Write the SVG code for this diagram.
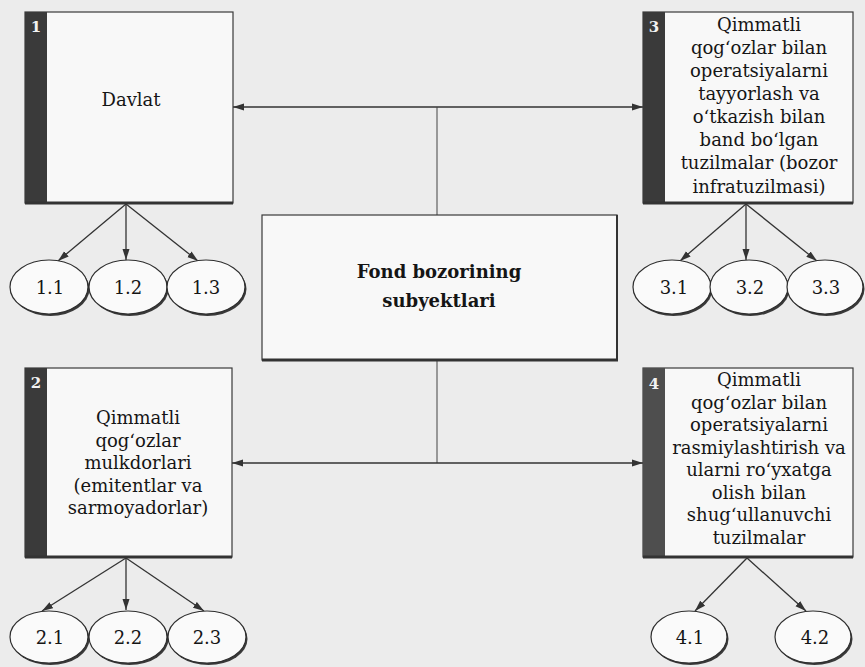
<svg xmlns="http://www.w3.org/2000/svg" width="865" height="667" viewBox="0 0 865 667">
<style>
.bg{fill:#ececec}
.box{fill:#f8f8f8;stroke:#3a3a3a;stroke-width:1.2}
.bar{fill:#3a3a3a}
.bar4{fill:#4e4e4e}
.sh{stroke:#333;stroke-width:3}
.t{font-family:"DejaVu Serif","Liberation Serif",serif;font-size:18px;fill:#151515;text-anchor:middle}
.title{font-weight:bold;font-size:18px}
.num{font-family:"DejaVu Serif","Liberation Serif",serif;font-size:15px;fill:#f2f2f2;font-weight:bold;text-anchor:middle}
.conn{stroke:#333;stroke-width:1.3;fill:none}
.vline{stroke:#444;stroke-width:1;fill:none}
.ell{fill:#fafafa;stroke:#2e2e2e;stroke-width:1.2}
.ellsh{fill:#3a3a3a}
.el{font-family:"DejaVu Serif","Liberation Serif",serif;font-size:18px;fill:#151515;text-anchor:middle}
</style>
<defs>
<marker id="ah" viewBox="0 0 11 8" refX="11" refY="4" markerWidth="11" markerHeight="8" markerUnits="userSpaceOnUse" orient="auto-start-reverse">
<path d="M0,0.5 L11,4 L0,7.5 z" fill="#333"/>
</marker>
</defs>
<rect class="bg" x="0" y="0" width="865" height="667"/>

<g id="connectors">
<line class="conn" x1="233" y1="107" x2="643" y2="107" marker-start="url(#ah)" marker-end="url(#ah)"/>
<line class="vline" x1="437" y1="107" x2="437" y2="215"/>
<line class="vline" x1="437" y1="360" x2="437" y2="463"/>
<line class="conn" x1="232" y1="463" x2="643" y2="463" marker-start="url(#ah)" marker-end="url(#ah)"/>
<line class="conn" x1="126" y1="204" x2="58" y2="261" marker-end="url(#ah)"/>
<line class="conn" x1="126" y1="204" x2="126" y2="260" marker-end="url(#ah)"/>
<line class="conn" x1="126" y1="204" x2="198" y2="261" marker-end="url(#ah)"/>
<line class="conn" x1="746" y1="204" x2="680" y2="261" marker-end="url(#ah)"/>
<line class="conn" x1="746" y1="204" x2="746" y2="260" marker-end="url(#ah)"/>
<line class="conn" x1="746" y1="204" x2="817" y2="261" marker-end="url(#ah)"/>
<line class="conn" x1="126" y1="558" x2="42" y2="611" marker-end="url(#ah)"/>
<line class="conn" x1="126" y1="558" x2="126" y2="610" marker-end="url(#ah)"/>
<line class="conn" x1="126" y1="558" x2="204" y2="611" marker-end="url(#ah)"/>
<line class="conn" x1="747" y1="558" x2="695" y2="611" marker-end="url(#ah)"/>
<line class="conn" x1="747" y1="558" x2="806" y2="611" marker-end="url(#ah)"/>
</g>

<g id="node-1">
<rect class="box" x="25" y="12" width="208" height="191"/>
<rect class="bar" x="25" y="12" width="22" height="191"/>
<line class="sh" x1="25" y1="203" x2="233" y2="203"/>
<text class="num" x="36" y="32">1</text>
<text class="t" x="131" y="106">Davlat</text>
</g>

<g id="node-2">
<rect class="box" x="25" y="368" width="207" height="189"/>
<rect class="bar" x="25" y="368" width="22" height="189"/>
<line class="sh" x1="25" y1="557" x2="232" y2="557"/>
<text class="num" x="36" y="388">2</text>
<text class="t" x="138" y="424">Qimmatli</text>
<text class="t" x="138" y="446.5">qog‘ozlar</text>
<text class="t" x="138" y="469">mulkdorlari</text>
<text class="t" x="138" y="491.5">(emitentlar va</text>
<text class="t" x="138" y="514">sarmoyadorlar)</text>
</g>

<g id="node-3">
<rect class="box" x="643" y="12" width="210" height="191"/>
<rect class="bar" x="643" y="12" width="22" height="191"/>
<line class="sh" x1="643" y1="203" x2="853" y2="203"/>
<text class="num" x="654" y="32">3</text>
<text class="t" x="759" y="31">Qimmatli</text>
<text class="t" x="759" y="54">qog‘ozlar bilan</text>
<text class="t" x="759" y="77">operatsiyalarni</text>
<text class="t" x="759" y="100">tayyorlash va</text>
<text class="t" x="759" y="123">o‘tkazish bilan</text>
<text class="t" x="759" y="146">band bo‘lgan</text>
<text class="t" x="759" y="169">tuzilmalar (bozor</text>
<text class="t" x="759" y="193">infratuzilmasi)</text>
</g>

<g id="node-4">
<rect class="box" x="643" y="368" width="210" height="189"/>
<rect class="bar4" x="643" y="368" width="22" height="189"/>
<line class="sh" x1="643" y1="557" x2="853" y2="557"/>
<text class="num" x="654" y="389">4</text>
<text class="t" x="759" y="386">Qimmatli</text>
<text class="t" x="759" y="408.5">qog‘ozlar bilan</text>
<text class="t" x="759" y="431">operatsiyalarni</text>
<text class="t" x="759" y="453.5">rasmiylashtirish va</text>
<text class="t" x="759" y="476">ularni ro‘yxatga</text>
<text class="t" x="759" y="498.5">olish bilan</text>
<text class="t" x="759" y="521">shug‘ullanuvchi</text>
<text class="t" x="759" y="543.5">tuzilmalar</text>
</g>

<g id="node-center">
<rect class="box" x="262" y="215" width="355" height="145"/>
<line class="sh" x1="262" y1="360" x2="618" y2="360"/>
<line class="sh" x1="617" y1="215" x2="617" y2="360" style="stroke-width:2"/>
<text class="t title" x="439" y="278">Fond bozorining</text>
<text class="t title" x="439" y="307">subyektlari</text>
</g>

<g id="node-1-1"><ellipse class="ellsh" cx="50.5" cy="289" rx="39" ry="27"/><ellipse class="ell" cx="49" cy="287" rx="39" ry="27"/><text class="el" x="50" y="294">1.1</text></g>
<g id="node-1-2"><ellipse class="ellsh" cx="129.5" cy="289" rx="39" ry="27"/><ellipse class="ell" cx="128" cy="287" rx="39" ry="27"/><text class="el" x="128" y="294">1.2</text></g>
<g id="node-1-3"><ellipse class="ellsh" cx="207.5" cy="289" rx="39" ry="27"/><ellipse class="ell" cx="206" cy="287" rx="39" ry="27"/><text class="el" x="206" y="294">1.3</text></g>

<g id="node-3-1"><ellipse class="ellsh" cx="673.5" cy="289" rx="39" ry="27"/><ellipse class="ell" cx="672" cy="287" rx="39" ry="27"/><text class="el" x="674" y="294">3.1</text></g>
<g id="node-3-2"><ellipse class="ellsh" cx="750.5" cy="289" rx="39" ry="27"/><ellipse class="ell" cx="749" cy="287" rx="39" ry="27"/><text class="el" x="750" y="294">3.2</text></g>
<g id="node-3-3"><ellipse class="ellsh" cx="826.5" cy="289" rx="38" ry="27"/><ellipse class="ell" cx="825" cy="287" rx="38" ry="27"/><text class="el" x="826" y="294">3.3</text></g>

<g id="node-2-1"><ellipse class="ellsh" cx="50.5" cy="639" rx="39" ry="26"/><ellipse class="ell" cx="49" cy="637" rx="39" ry="26"/><text class="el" x="50" y="644">2.1</text></g>
<g id="node-2-2"><ellipse class="ellsh" cx="129.5" cy="639" rx="39" ry="26"/><ellipse class="ell" cx="128" cy="637" rx="39" ry="26"/><text class="el" x="128" y="644">2.2</text></g>
<g id="node-2-3"><ellipse class="ellsh" cx="208.5" cy="639" rx="39" ry="26"/><ellipse class="ell" cx="207" cy="637" rx="39" ry="26"/><text class="el" x="207" y="644">2.3</text></g>

<g id="node-4-1"><ellipse class="ellsh" cx="690.5" cy="639" rx="38" ry="26"/><ellipse class="ell" cx="689" cy="637" rx="38" ry="26"/><text class="el" x="690" y="644">4.1</text></g>
<g id="node-4-2"><ellipse class="ellsh" cx="814.5" cy="639" rx="38" ry="26"/><ellipse class="ell" cx="813" cy="637" rx="38" ry="26"/><text class="el" x="815" y="644">4.2</text></g>
</svg>
